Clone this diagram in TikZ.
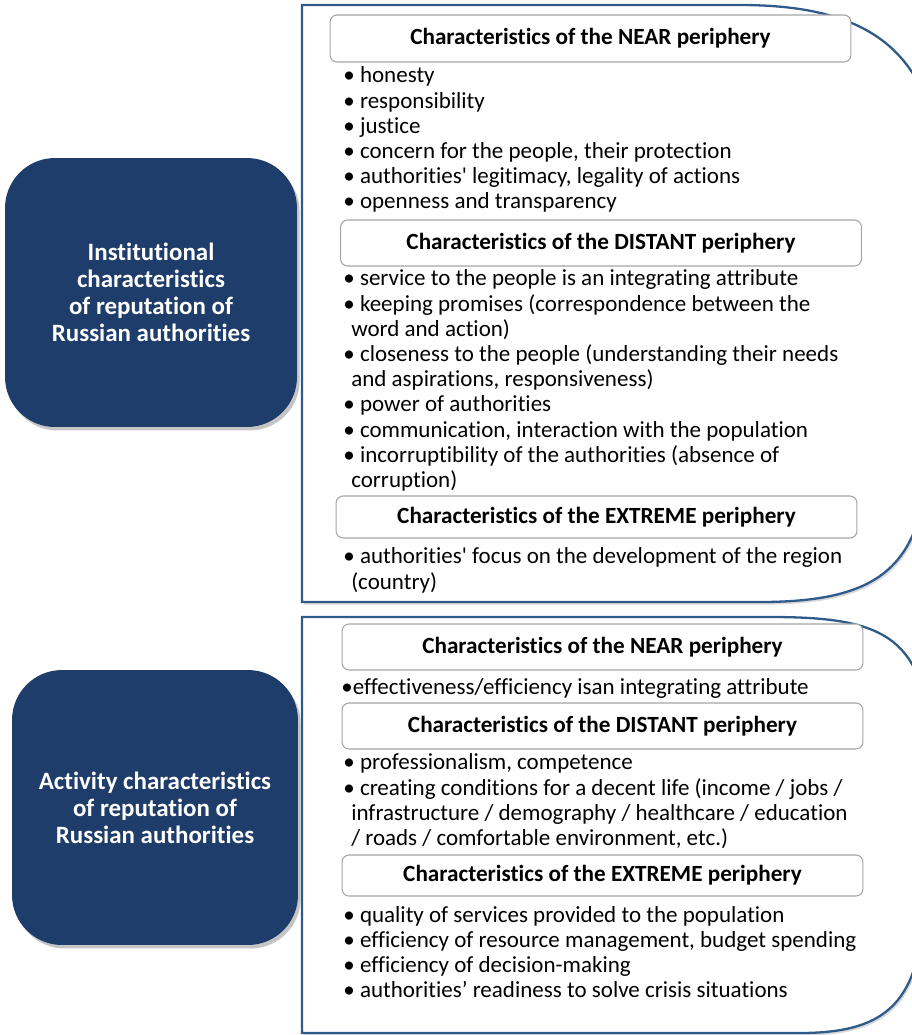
\documentclass[tikz,border=0pt]{standalone}
\usepackage{fontspec}
\setmainfont{Carlito}[Ligatures={NoCommon}]
\usetikzlibrary{positioning, shadows}
\definecolor{navy}{HTML}{1F3D6A}
\definecolor{panelblue}{HTML}{2E5A8C}
\definecolor{hdgray}{HTML}{A5A5A5}
\definecolor{shadowgray}{HTML}{7F7F7F}

\tikzset{
  sidebox/.style={fill=navy, rounded corners=1cm, text=white, align=center,
    font=\fontsize{14.2}{15.4}\selectfont\bfseries,
    drop shadow={fill=shadowgray, opacity=0.45, shadow xshift=1.5pt, shadow yshift=-2pt}},
  panel/.style={draw=panelblue, line width=1.3pt, fill=white,
    drop shadow={fill=shadowgray, opacity=0.3, shadow xshift=1pt, shadow yshift=-1.5pt}},
  hdbox/.style={draw=hdgray, fill=white, line width=0.6pt, rounded corners=4pt,
    minimum width=10.42cm, font=\fontsize{13.2}{14.3}\selectfont\bfseries},
  itemlist/.style={anchor=north west, inner sep=0pt, align=left,
    font=\fontsize{13.1}{14.34}\selectfont}
}
\newcommand{\cont}{\hspace*{4.5pt}}

\begin{document}
\begin{tikzpicture}[x=0.02cm, y=-0.02cm]

% Canvas: pixel grid 912 x 1035, y grows downwards
\useasboundingbox (0,0) rectangle (912,1035);
\clip (0,0) rectangle (912,1035);
\fill[white] (0,0) rectangle (912,1035);

% --- Right panels (right side runs off the page) ---
\draw[panel] (302,5) -- (740,5) .. controls (845,5) and (905,35) .. (930,110)
  -- (930,440) .. controls (925,560) and (890,602) .. (760,602) -- (302,602) -- cycle;
\draw[panel] (302,617) -- (770,617) .. controls (865,617) and (910,630) .. (925,700)
  -- (925,900) .. controls (920,1000) and (890,1033) .. (800,1033) -- (302,1033) -- cycle;

% --- Left boxes ---
\node[sidebox, minimum width=5.84cm, minimum height=5.38cm] (inst) at (151,292.5)
  {Institutional\\characteristics\\of reputation of\\Russian authorities};
\node[sidebox, minimum width=5.72cm, minimum height=5.5cm] (act) at (155,807.5)
  {Activity characteristics\\of reputation of\\Russian authorities};

% --- Institutional panel ---
\node[hdbox, minimum height=0.94cm] (instnear) at (590.5,38.5)
  {Characteristics of the NEAR periphery};
\node[itemlist] (instnearlist) at (343,65) {\strut\textbullet\ honesty\\
  \textbullet\ responsibility\\
  \textbullet\ justice\\
  \textbullet\ concern for the people, their protection\\
  \textbullet\ authorities\textquotesingle\ legitimacy, legality of actions\\
  \textbullet\ openness and transparency};

\node[hdbox, minimum height=0.92cm] (instdist) at (601,243)
  {Characteristics of the DISTANT periphery};
\node[itemlist] (instdistlist) at (343,268) {\strut\textbullet\ service to the people is an integrating attribute\\
  \textbullet\ keeping promises (correspondence between the\\
  \cont word and action)\\
  \textbullet\ closeness to the people (understanding their needs\\
  \cont and aspirations, responsiveness)\\
  \textbullet\ power of authorities\\
  \textbullet\ communication, interaction with the population\\
  \textbullet\ incorruptibility of the authorities (absence of\\
  \cont corruption)};

\node[hdbox, minimum height=0.84cm] (instextr) at (596.5,517)
  {Characteristics of the EXTREME periphery};
\node[itemlist] (instextrlist) at (343,546) {\strut\textbullet\ authorities\textquotesingle\ focus on the development of the region\\
  \cont(country)};

% --- Activity panel ---
\node[hdbox, minimum height=0.92cm] (actnear) at (602.5,647)
  {Characteristics of the NEAR periphery};
\node[itemlist] (actnearlist) at (341,677) {\strut\textbullet effectiveness/efficiency isan integrating attribute};

\node[hdbox, minimum height=0.92cm] (actdist) at (602.5,726)
  {Characteristics of the DISTANT periphery};
\node[itemlist] (actdistlist) at (343,752) {\strut\textbullet\ professionalism, competence\\
  \textbullet\ creating conditions for a decent life (income / jobs /\\
  \cont infrastructure / demography / healthcare / education\\
  \cont / roads / comfortable environment, etc.)};

\node[hdbox, minimum height=0.82cm] (actextr) at (602.5,875.5)
  {Characteristics of the EXTREME periphery};
\node[itemlist] (actextrlist) at (343,904) {\strut\textbullet\ quality of services provided to the population\\
  \textbullet\ efficiency of resource management, budget spending\\
  \textbullet\ efficiency of decision-making\\
  \textbullet\ authorities’ readiness to solve crisis situations};

\end{tikzpicture}
\end{document}
